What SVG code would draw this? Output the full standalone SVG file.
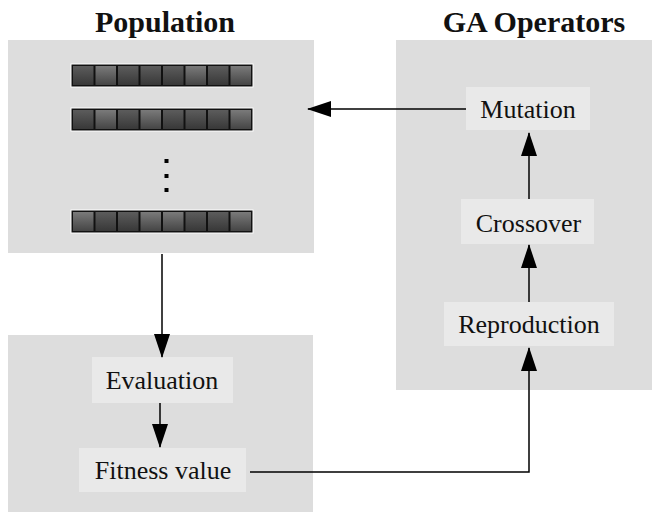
<svg xmlns="http://www.w3.org/2000/svg" width="652" height="512" viewBox="0 0 652 512">
<style>
.panel{fill:#dddddd}
.node{fill:#e9e9e9}
.lbl{font-family:"Liberation Serif","Times New Roman",serif;font-size:26px;fill:#111;text-anchor:middle}
.title{font-family:"Liberation Serif","Times New Roman",serif;font-size:30px;font-weight:bold;fill:#111;text-anchor:middle}
.edge{stroke:#000;stroke-width:1.5;fill:none}
.bar{fill:#111;stroke:#fff;stroke-width:1}
.cd{fill:url(#gd)}
.cl{fill:url(#gl)}
</style>
<defs>
<linearGradient id="gd" x1="0" y1="0" x2="0" y2="1"><stop offset="0" stop-color="#5c5c5c"/><stop offset="1" stop-color="#383838"/></linearGradient>
<linearGradient id="gl" x1="0" y1="0" x2="0" y2="1"><stop offset="0" stop-color="#7a7a7a"/><stop offset="1" stop-color="#454545"/></linearGradient>
<marker id="ah" markerWidth="24" markerHeight="16" refX="23" refY="8" orient="auto" markerUnits="userSpaceOnUse"><path d="M0,0 L24,8 L0,16 Z" fill="#000"/></marker>
</defs>
<rect width="652" height="512" fill="#fff"/>

<g id="population">
<text class="title" x="165" y="32">Population</text>
<rect class="panel" x="8" y="40" width="306" height="213"/>
<g id="chrom1">
<rect class="bar" x="71" y="64" width="182" height="23"/>
<rect class="cd" x="73" y="66" width="20.5" height="19"/><rect class="cl" x="95.5" y="66" width="20.5" height="19"/><rect class="cd" x="118" y="66" width="20.5" height="19"/><rect class="cd" x="140.5" y="66" width="20.5" height="19"/><rect class="cd" x="163" y="66" width="20.5" height="19"/><rect class="cl" x="185.5" y="66" width="20.5" height="19"/><rect class="cd" x="208" y="66" width="20.5" height="19"/><rect class="cl" x="230.5" y="66" width="20.5" height="19"/>
</g>
<g id="chrom2">
<rect class="bar" x="71" y="108" width="182" height="23"/>
<rect class="cd" x="73" y="110" width="20.5" height="19"/><rect class="cl" x="95.5" y="110" width="20.5" height="19"/><rect class="cd" x="118" y="110" width="20.5" height="19"/><rect class="cl" x="140.5" y="110" width="20.5" height="19"/><rect class="cd" x="163" y="110" width="20.5" height="19"/><rect class="cd" x="185.5" y="110" width="20.5" height="19"/><rect class="cd" x="208" y="110" width="20.5" height="19"/><rect class="cl" x="230.5" y="110" width="20.5" height="19"/>
</g>
<g id="dots" fill="#000">
<rect x="164.5" y="159" width="4" height="4"/><rect x="164.5" y="174" width="4" height="4"/><rect x="164.5" y="188" width="4" height="4"/>
</g>
<g id="chrom3">
<rect class="bar" x="71" y="210" width="182" height="23"/>
<rect class="cl" x="73" y="212" width="20.5" height="19"/><rect class="cd" x="95.5" y="212" width="20.5" height="19"/><rect class="cd" x="118" y="212" width="20.5" height="19"/><rect class="cl" x="140.5" y="212" width="20.5" height="19"/><rect class="cl" x="163" y="212" width="20.5" height="19"/><rect class="cd" x="185.5" y="212" width="20.5" height="19"/><rect class="cd" x="208" y="212" width="20.5" height="19"/><rect class="cl" x="230.5" y="212" width="20.5" height="19"/>
</g>
</g>

<g id="ga-operators">
<text class="title" x="534" y="32">GA Operators</text>
<rect class="panel" x="396" y="40" width="256" height="350"/>
</g>

<g id="evaluation-panel">
<rect class="panel" x="8" y="335" width="305" height="177"/>
</g>

<g id="mutation">
<rect class="node" x="466" y="87" width="124" height="43"/>
<text class="lbl" x="528" y="118">Mutation</text>
</g>
<g id="crossover">
<rect class="node" x="461" y="199" width="133" height="45"/>
<text class="lbl" x="528.5" y="232">Crossover</text>
</g>
<g id="reproduction">
<rect class="node" x="444" y="302" width="170" height="44"/>
<text class="lbl" x="529" y="333">Reproduction</text>
</g>
<g id="evaluation">
<rect class="node" x="92" y="357" width="141" height="46"/>
<text class="lbl" x="162" y="389">Evaluation</text>
</g>
<g id="fitness">
<rect class="node" x="79" y="448" width="167" height="44"/>
<text class="lbl" x="163" y="479">Fitness value</text>
</g>

<g id="connectors">
<path class="edge" d="M466,109 H308" marker-end="url(#ah)"/>
<path class="edge" d="M162,254 V357" marker-end="url(#ah)"/>
<path class="edge" d="M160,403 V447" marker-end="url(#ah)"/>
<path class="edge" d="M250,472 H529 V348" marker-end="url(#ah)"/>
<path class="edge" d="M529,302 V245" marker-end="url(#ah)"/>
<path class="edge" d="M529,199 V133" marker-end="url(#ah)"/>
</g>
</svg>
